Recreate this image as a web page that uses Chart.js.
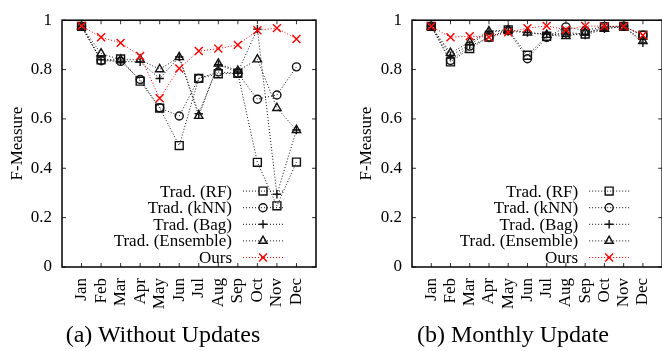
<!DOCTYPE html>
<html>
<head>
<meta charset="utf-8">
<script src="https://cdn.jsdelivr.net/npm/chart.js@4/dist/chart.umd.min.js"></script>
<style>
  html, body { margin:0; padding:0; background:#fff; width:662px; height:351px; overflow:hidden; }
  #wrap { position:relative; width:662px; height:351px; overflow:hidden; }
  canvas { position:absolute; top:0; }
  .cap { position:absolute; top:321px; width:320px; text-align:center; font-family:'Liberation Serif', serif; font-size:24px; line-height:26px; color:#000; white-space:nowrap; }
</style>
</head>
<body>
<div id="wrap">
  <canvas id="cA" width="330" height="351" style="left:0px;width:330px;height:351px"></canvas>
  <canvas id="cB" width="345" height="351" style="left:330px;width:345px;height:351px"></canvas>
  <div class="cap" style="left:3px">(a) Without Updates</div>
  <div class="cap" style="left:353px">(b) Monthly Update</div>
</div>
<script>
// ---- data ----
const months = ['Jan','Feb','Mar','Apr','May','Jun','Jul','Aug','Sep','Oct','Nov','Dec'];
const seriesNames = ['Trad. (RF)','Trad. (kNN)','Trad. (Bag)','Trad. (Ensemble)','Ours'];
const yTickValues = [0, 0.2, 0.4, 0.6, 0.8, 1];

// (a) Without Updates
const rfA   = [0.975, 0.839, 0.843, 0.753, 0.644, 0.492, 0.764, 0.783, 0.785, 0.424, 0.248, 0.425];
const knnA  = [0.975, 0.836, 0.833, 0.760, 0.645, 0.612, 0.764, 0.790, 0.785, 0.680, 0.697, 0.811];
const bagA  = [0.975, 0.840, 0.833, 0.831, 0.764, 0.851, 0.621, 0.820, 0.790, 0.964, 0.295, 0.555];
const ensA  = [0.975, 0.865, 0.840, 0.840, 0.801, 0.850, 0.612, 0.824, 0.795, 0.841, 0.644, 0.555];
const oursA = [0.977, 0.931, 0.908, 0.855, 0.684, 0.804, 0.875, 0.885, 0.900, 0.959, 0.968, 0.924];

// (b) Monthly Update
const rfB   = [0.975, 0.831, 0.885, 0.932, 0.961, 0.858, 0.935, 0.950, 0.944, 0.973, 0.975, 0.939];
const knnB  = [0.975, 0.837, 0.895, 0.930, 0.958, 0.844, 0.930, 0.973, 0.958, 0.975, 0.975, 0.939];
const bagB  = [0.975, 0.856, 0.900, 0.955, 0.955, 0.950, 0.944, 0.944, 0.940, 0.965, 0.975, 0.908];
const ensB  = [0.975, 0.867, 0.911, 0.955, 0.961, 0.950, 0.940, 0.935, 0.950, 0.965, 0.975, 0.915];
const oursB = [0.975, 0.931, 0.935, 0.931, 0.951, 0.968, 0.977, 0.961, 0.977, 0.975, 0.975, 0.939];

// ---- styles ----
const FONT = "'Liberation Serif', 'Times New Roman', serif";
const styles = [
  { pointStyle:'rect',      radius:5.6, color:'#111', order:4 },
  { pointStyle:'circle',    radius:4.0, color:'#111', order:3 },
  { pointStyle:'cross',     radius:4.2, color:'#111', order:2 },
  { pointStyle:'triangle',  radius:4.8, color:'#111', order:1 },
  { pointStyle:'crossRot',  radius:5.6, color:'#ff0000', order:0 }
];

function makeDatasets(arrs) {
  return arrs.map((vals, k) => ({
    label: seriesNames[k],
    data: vals.map((v, i) => ({ x: i, y: v })),
    borderColor: styles[k].color,
    backgroundColor: 'rgba(0,0,0,0)',
    borderWidth: 1,
    borderDash: [1, 2],
    pointStyle: styles[k].pointStyle,
    pointRadius: styles[k].radius,
    pointBorderWidth: 1.4,
    pointBorderColor: styles[k].color,
    pointBackgroundColor: 'rgba(0,0,0,0)',
    tension: 0,
    order: styles[k].order,
    clip: false
  }));
}

function drawMarker(ctx, style, x, y) {
  if (Chart.helpers && Chart.helpers.drawPoint) {
    Chart.helpers.drawPoint(ctx, { pointStyle: style.pointStyle, radius: style.radius, borderWidth: 1.4, rotation: 0 }, x, y);
    return;
  }
  ctx.beginPath(); ctx.arc(x, y, style.radius, 0, Math.PI * 2); ctx.stroke();
}

const framePlugin = {
  id: 'frame',
  afterDatasetsDraw(chart) {
    const { ctx, chartArea: a, scales } = chart;
    ctx.save();
    // inward ticks
    ctx.strokeStyle = '#333';
    ctx.lineWidth = 1;
    ctx.beginPath();
    months.forEach((m, i) => {
      const px = scales.x.getPixelForValue(i);
      ctx.moveTo(px, a.bottom); ctx.lineTo(px, a.bottom - 4);
      ctx.moveTo(px, a.top); ctx.lineTo(px, a.top + 4);
    });
    yTickValues.forEach(v => {
      const py = scales.y.getPixelForValue(v);
      ctx.moveTo(a.left, py); ctx.lineTo(a.left + 4, py);
      ctx.moveTo(a.right, py); ctx.lineTo(a.right - 4, py);
    });
    ctx.stroke();
    // box
    ctx.strokeStyle = '#000';
    ctx.lineWidth = 1.5;
    ctx.strokeRect(a.left, a.top, a.right - a.left, a.bottom - a.top);

    // legend (inside, bottom-right)
    const ds = chart.data.datasets;
    const n = ds.length;
    const rowH = 16.6;
    ctx.font = '17px ' + FONT;
    ctx.textAlign = 'right';
    ctx.textBaseline = 'middle';
    ds.forEach((d, k) => {
      const y = a.bottom - 9.5 - (n - 1 - k) * rowH;
      ctx.fillStyle = '#000';
      ctx.fillText(d.label, a.right - 84, y + 1);
      ctx.strokeStyle = d.borderColor;
      ctx.lineWidth = 1;
      ctx.setLineDash([1, 2]);
      ctx.beginPath();
      ctx.moveTo(a.right - 73, y); ctx.lineTo(a.right - 33, y);
      ctx.stroke();
      ctx.setLineDash([]);
      ctx.fillStyle = 'rgba(0,0,0,0)';
      ctx.lineWidth = 1.4;
      drawMarker(ctx, styles[k], a.right - 53, y);
    });
    ctx.restore();
  }
};

function makeChart(id, arrs, yWidth, titlePad, padRight) {
  return new Chart(document.getElementById(id), {
    type: 'line',
    data: { datasets: makeDatasets(arrs) },
    plugins: [framePlugin],
    options: {
      responsive: false,
      animation: false,
      devicePixelRatio: 1,
      layout: { padding: { top: 17, right: padRight, left: 0, bottom: 0 } },
      plugins: { legend: { display: false }, tooltip: { enabled: false }, title: { display: false } },
      scales: {
        x: {
          type: 'linear', min: -1, max: 12,
          afterBuildTicks: s => { s.ticks = months.map((m, i) => ({ value: i })); },
          afterFit: s => { s.height = 84; },
          grid: { display: true, drawOnChartArea: false, drawTicks: false },
          border: { display: false },
          ticks: {
            autoSkip: false, minRotation: 90, maxRotation: 90, padding: 11,
            color: '#000', font: { family: FONT, size: 17 },
            callback: v => months[v] !== undefined ? months[v] : ''
          }
        },
        y: {
          min: 0, max: 1,
          afterBuildTicks: s => { s.ticks = yTickValues.map(v => ({ value: v })); },
          afterFit: s => { s.width = yWidth; },
          grid: { display: true, drawOnChartArea: false, drawTicks: false },
          border: { display: false },
          ticks: {
            padding: 10, color: '#000', font: { family: FONT, size: 17 },
            callback: v => (v === 0 ? '0' : v === 1 ? '1' : String(Number(v.toFixed(1))))
          },
          title: {
            display: true, text: 'F-Measure', color: '#000',
            font: { family: FONT, size: 17 }, padding: { top: titlePad, bottom: 0 }
          }
        }
      }
    }
  });
}

makeChart('cA', [rfA, knnA, bagA, ensA, oursA], 62, 7, 14);
makeChart('cB', [rfB, knnB, bagB, ensB, oursB], 82, 26.5, 9);
</script>
</body>
</html>
